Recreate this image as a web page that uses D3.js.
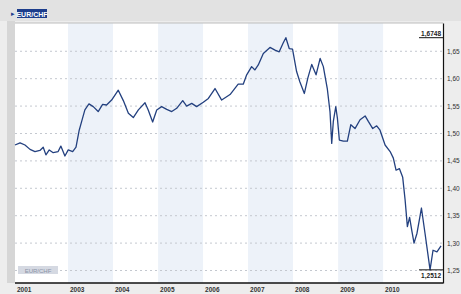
<!DOCTYPE html>
<html lang="de">
<head>
<meta charset="UTF-8">
<title>EUR/CHF</title>
<script src="https://d3js.org/d3.v7.min.js"></script>
<style>
  body { margin: 0; background: #efefef; }
  text { font-family: "Liberation Sans", Arial, sans-serif; }
</style>
</head>
<body>
<script>
  // EUR/CHF Kursverlauf
  const dates = [
    "2001-10-28","2001-12-08","2002-01-17","2002-02-27","2002-04-08","2002-05-18","2002-06-14","2002-07-06",
    "2002-08-02","2002-09-03","2002-10-13","2002-11-04","2002-12-07","2003-01-03","2003-02-08","2003-03-07",
    "2003-04-02","2003-04-22","2003-05-18","2003-06-20","2003-07-25","2003-09-03","2003-10-09","2003-11-10",
    "2003-12-21","2004-02-13","2004-03-25","2004-05-05","2004-06-14","2004-07-25","2004-09-17","2004-10-13",
    "2004-11-18","2004-12-21","2005-01-30","2005-03-12","2005-04-22","2005-06-01","2005-07-20","2005-08-21",
    "2005-10-01","2005-11-10","2006-01-03","2006-02-13","2006-04-08","2006-06-01","2006-08-08","2006-10-13",
    "2006-11-23","2006-12-21","2007-01-30","2007-02-26","2007-03-25","2007-05-05","2007-06-28","2007-08-08",
    "2007-09-11","2007-10-13","2007-11-04","2007-12-01","2007-12-28","2008-01-30","2008-02-26","2008-04-02",
    "2008-04-30","2008-06-01","2008-07-06","2008-08-08","2008-09-03","2008-10-05","2008-10-27","2008-11-10",
    "2008-11-23","2008-12-13","2008-12-26","2009-01-11","2009-02-13","2009-03-17","2009-04-14","2009-05-18",
    "2009-06-28","2009-08-08","2009-09-03","2009-10-09","2009-11-10","2009-12-07","2010-01-17","2010-02-27",
    "2010-03-25","2010-04-16","2010-05-13","2010-06-09","2010-06-28","2010-07-17","2010-08-04","2010-08-24",
    "2010-09-09","2010-10-03","2010-11-08","2010-12-07","2011-01-17","2011-02-10","2011-03-14","2011-04-16"
  ];
  const kurs = [
    1.479,1.483,1.479,1.471,1.467,1.469,1.475,1.461,
    1.470,1.465,1.467,1.477,1.459,1.470,1.467,1.475,
    1.506,1.522,1.543,1.554,1.549,1.540,1.553,1.552,
    1.561,1.579,1.560,1.537,1.529,1.543,1.556,1.543,
    1.521,1.543,1.549,1.544,1.540,1.546,1.560,1.550,
    1.555,1.549,1.557,1.564,1.582,1.561,1.571,1.590,
    1.590,1.607,1.622,1.616,1.625,1.646,1.657,1.652,
    1.649,1.665,1.6748,1.655,1.654,1.613,1.594,1.573,
    1.601,1.626,1.607,1.637,1.622,1.582,1.540,1.482,
    1.522,1.549,1.528,1.488,1.486,1.486,1.516,1.509,
    1.525,1.532,1.522,1.509,1.514,1.506,1.479,1.467,
    1.455,1.433,1.436,1.420,1.380,1.330,1.347,1.320,
    1.300,1.318,1.364,1.318,1.2512,1.287,1.284,1.295
  ];
  const yTicks = [1.25, 1.30, 1.35, 1.40, 1.45, 1.50, 1.55, 1.60, 1.65];
  const yearLabels = ["2001","2003","2004","2005","2006","2007","2008","2009","2010"];
  const bandYears = [2003, 2005, 2007, 2009];
  const range = ["2001-10-28", "2011-05-02"];

  const width = 461, height = 294;
  const pLeft = 15, pRight = 443, pTop = 23, pBottom = 283;
  const parse = d3.timeParse("%Y-%m-%d");
  const data = dates.map((d, i) => ({ date: parse(d), value: kurs[i] }));

  const svg = d3.select("body").append("svg")
      .attr("width", width)
      .attr("height", height)
      .style("display", "block");

  const x = d3.scaleTime().domain(range.map(parse)).range([pLeft, pRight]);
  const y = d3.scaleLinear().domain([1.2272, 1.7016]).range([pBottom, pTop]);

  // Rahmen / Kopfzeile
  svg.append("rect").attr("width", width).attr("height", height).attr("fill", "#ededed");
  svg.append("rect").attr("x", 0).attr("y", 0).attr("width", width).attr("height", 21).attr("fill", "#e2e2e2");
  svg.append("rect").attr("x", 7).attr("y", 21).attr("width", 8).attr("height", pBottom - 21).attr("fill", "#d6d6d6");
  svg.append("rect").attr("x", pLeft).attr("y", pTop).attr("width", pRight - pLeft).attr("height", pBottom - pTop).attr("fill", "#fff");

  // Jahresbaender
  svg.append("g").selectAll("rect")
      .data(bandYears)
      .join("rect")
      .attr("x", d => x(new Date(d, 0, 1)))
      .attr("y", pTop)
      .attr("width", d => x(new Date(d + 1, 0, 1)) - x(new Date(d, 0, 1)))
      .attr("height", pBottom - pTop)
      .attr("fill", "#edf2f9");

  // Gitterlinien
  svg.append("g").selectAll("line")
      .data(yTicks)
      .join("line")
      .attr("x1", pLeft).attr("x2", pRight)
      .attr("y1", d => y(d)).attr("y2", d => y(d))
      .attr("stroke", "#c4c8cf")
      .attr("stroke-dasharray", "2,3");

  // Titel
  svg.append("text").attr("x", 11).attr("y", 16).attr("font-size", 7).attr("fill", "#1c3d8c").text("\u25B8");
  svg.append("rect").attr("x", 17).attr("y", 9).attr("width", 30).attr("height", 9).attr("fill", "#1c3d8c");
  svg.append("text").attr("x", 32).attr("y", 16.5).attr("text-anchor", "middle")
      .attr("font-size", 7).attr("font-weight", "bold").attr("fill", "#fff").text("EUR/CHF");

  // Wasserzeichen unten links
  svg.append("rect").attr("x", 18).attr("y", 266).attr("width", 40).attr("height", 8).attr("fill", "#d5d9e2");
  svg.append("text").attr("x", 38).attr("y", 272.5).attr("text-anchor", "middle")
      .attr("font-size", 6).attr("fill", "#8a93a6").text("EUR/CHF");

  // Kurslinie
  const line = d3.line().x(d => x(d.date)).y(d => y(d.value));
  svg.append("path")
      .datum(data)
      .attr("fill", "none")
      .attr("stroke", "#23407f")
      .attr("stroke-width", 1.3)
      .attr("stroke-linejoin", "round")
      .attr("d", line);

  // Achsen
  svg.append("line").attr("x1", pLeft).attr("x2", pRight).attr("y1", pTop).attr("y2", pTop).attr("stroke", "#bdbdbd");
  const yAxis = svg.append("g")
      .attr("transform", `translate(${pRight},0)`)
      .call(d3.axisRight(y).tickValues(yTicks).tickSize(0).tickPadding(4)
        .tickFormat(d => d3.format(".2f")(d).replace(".", ",")));
  yAxis.select(".domain").attr("stroke", "#111").attr("stroke-width", 1.2);
  yAxis.selectAll("text").attr("font-size", 6.5).attr("fill", "#333");

  svg.append("line").attr("x1", pLeft).attr("x2", pRight).attr("y1", pBottom).attr("y2", pBottom)
      .attr("stroke", "#111").attr("stroke-width", 1.5);

  svg.append("g").selectAll("text")
      .data(yearLabels)
      .join("text")
      .attr("x", d => Math.max(x(new Date(+d, 0, 1)), pLeft) + 2)
      .attr("y", 292)
      .attr("font-size", 6.5)
      .attr("font-weight", "bold")
      .attr("fill", "#333")
      .text(d => d);

  // Hoch / Tief Markierung
  const hoch = d3.max(data, d => d.value), tief = d3.min(data, d => d.value);
  const fmt = v => d3.format(".4f")(v).replace(".", ",");
  svg.append("line").attr("x1", pRight - 24).attr("x2", pRight).attr("y1", y(hoch)).attr("y2", y(hoch)).attr("stroke", "#111");
  svg.append("text").attr("x", pRight - 2).attr("y", y(hoch) - 2).attr("text-anchor", "end")
      .attr("font-size", 6.5).attr("font-weight", "bold").attr("fill", "#222").text(fmt(hoch));
  svg.append("line").attr("x1", pRight - 24).attr("x2", pRight).attr("y1", y(tief)).attr("y2", y(tief)).attr("stroke", "#111");
  svg.append("text").attr("x", pRight - 2).attr("y", y(tief) + 8).attr("text-anchor", "end")
      .attr("font-size", 6.5).attr("font-weight", "bold").attr("fill", "#222").text(fmt(tief));
</script>
</body>
</html>
